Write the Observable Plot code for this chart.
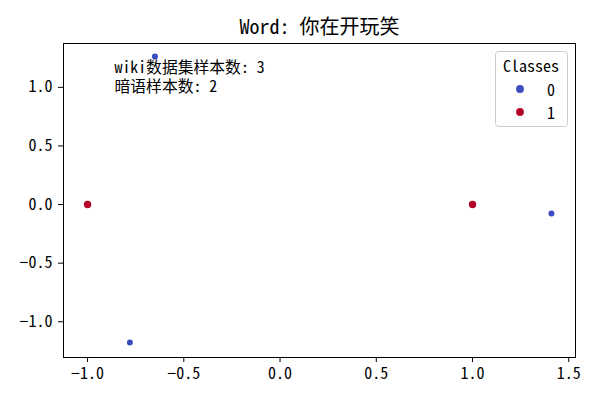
<!DOCTYPE html>
<html>
<head>
<meta charset="utf-8">
<script src="https://cdn.jsdelivr.net/npm/d3@7"></script>
<script src="https://cdn.jsdelivr.net/npm/@observablehq/plot@0.6"></script>
<style>
  html, body { margin: 0; padding: 0; background: white; }
  #chart { position: relative; width: 600px; height: 400px; }
</style>
</head>
<body>
<div id="chart"></div>
<script>
const titleText = "Word: 你在开玩笑";
const classes = ["0", "1"];
const classColors = ["#3b4cc0", "#b40426"];
const pointX = [-0.65, -0.78, 1.41, -1.0, 1.0];
const pointY = [1.263, -1.178, -0.077, 0.0, 0.0];
const pointClass = ["0", "0", "0", "1", "1"];
const annotationLines = ["wiki数据集样本数: 3", "暗语样本数: 2"];
const xTicks = [-1.0, -0.5, 0.0, 0.5, 1.0, 1.5];
const yTicks = [-1.0, -0.5, 0.0, 0.5, 1.0];

const data = pointX.map((x, i) => ({x, y: pointY[i], c: pointClass[i]}));
const font = "'Noto Sans Mono CJK SC', 'Noto Sans CJK SC', sans-serif";
const fmt = d3.format(".1f");

const plot = Plot.plot({
  width: 600,
  height: 400,
  marginLeft: 63,
  marginRight: 25,
  marginTop: 43,
  marginBottom: 43,
  style: {fontFamily: font, fontSize: "16px", color: "black", background: "white"},
  x: {domain: [-1.125, 1.535], ticks: xTicks, tickFormat: fmt, label: null},
  y: {domain: [-1.305, 1.374], ticks: yTicks, tickFormat: fmt, label: null},
  color: {domain: classes, range: classColors},
  marks: [
    Plot.axisX({ticks: xTicks, tickFormat: fmt, tickSize: 5, tickPadding: 5, fontSize: 16, label: null}),
    Plot.axisY({ticks: yTicks, tickFormat: fmt, tickSize: 5, tickPadding: 6, fontSize: 16, label: null}),
    Plot.frame({stroke: "black", strokeWidth: 1}),
    Plot.dot(data, {x: "x", y: "y", fill: "c", r: d => d.c === "1" ? 3.9 : 2.6, stroke: null}),
    Plot.text([annotationLines[0]], {frameAnchor: "top-left", dx: 51, dy: 24.5, lineAnchor: "middle", textAnchor: "start", fontSize: 15.8, fill: "black"}),
    Plot.text([annotationLines[1]], {frameAnchor: "top-left", dx: 51, dy: 43.5, lineAnchor: "middle", textAnchor: "start", fontSize: 15.8, fill: "black"}),
    Plot.text([titleText], {frameAnchor: "top", dy: -16, lineAnchor: "middle", fontSize: 20, fill: "black"})
  ]
});
document.getElementById("chart").appendChild(plot);

// Legend box (matplotlib-style), drawn in pixel space
const svg = d3.select(plot);
const lg = svg.append("g").attr("font-family", font).attr("font-size", 16);
lg.append("rect").attr("x", 495.5).attr("y", 51.5).attr("width", 72).attr("height", 75)
  .attr("rx", 3).attr("fill", "white").attr("fill-opacity", 0.8).attr("stroke", "#cccccc");
lg.append("text").attr("x", 531).attr("y", 65).attr("text-anchor", "middle")
  .attr("dominant-baseline", "central").text("Classes");
classes.forEach((c, i) => {
  const yy = 89 + i * 23;
  lg.append("circle").attr("cx", 520).attr("cy", yy).attr("r", 3.9).attr("fill", classColors[i]);
  lg.append("text").attr("x", 551).attr("y", yy).attr("dominant-baseline", "central").text(c);
});
</script>
</body>
</html>
